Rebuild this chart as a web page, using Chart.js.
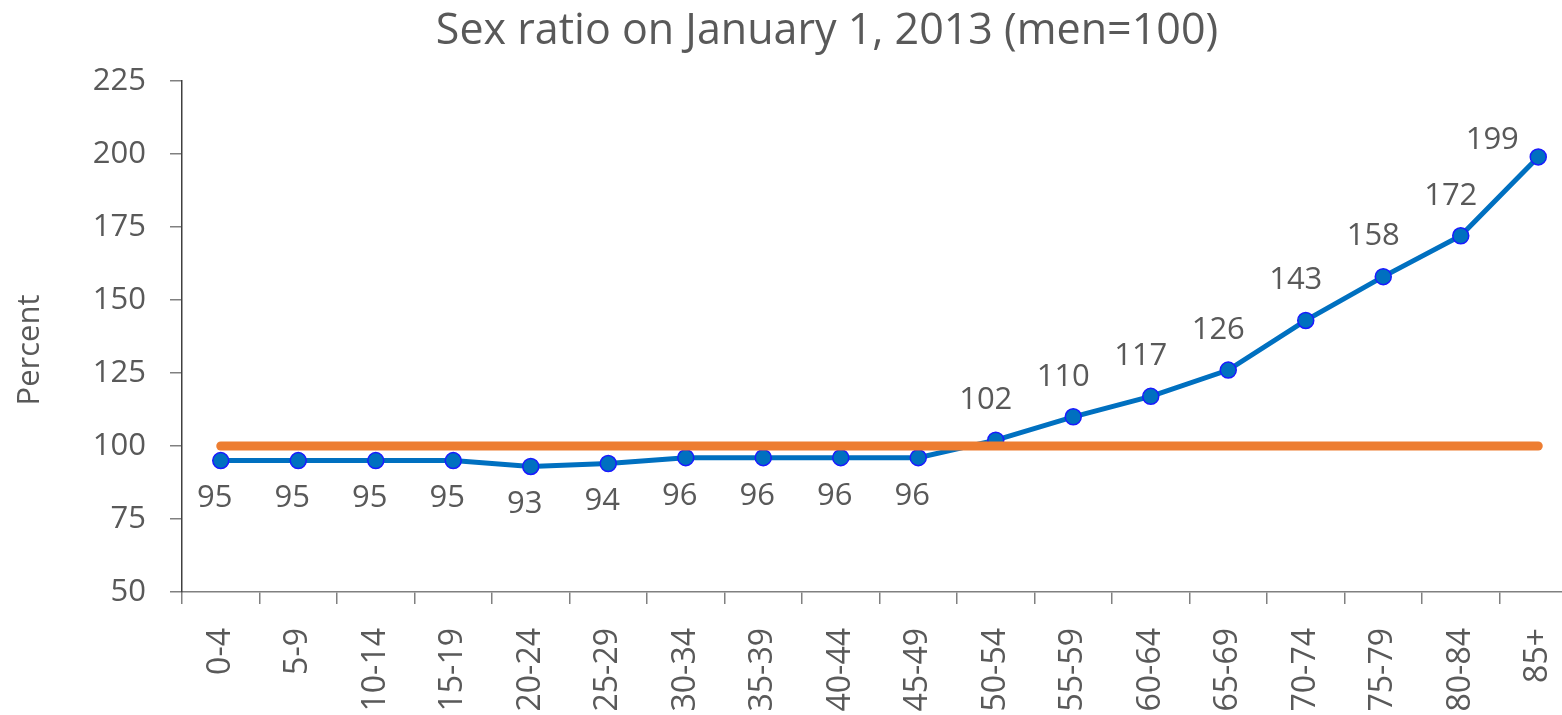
<!DOCTYPE html>
<html>
<head>
<meta charset="utf-8">
<title>Sex ratio on January 1, 2013</title>
<script src="https://cdn.jsdelivr.net/npm/chart.js@4.4.1/dist/chart.umd.min.js"></script>
<style>
  html, body { margin: 0; padding: 0; overflow: hidden; background: #fff; }
  #wrap { width: 1654px; height: 740px; }
</style>
</head>
<body>
<div id="wrap"><canvas id="ratioChart" width="1654" height="740"></canvas></div>
<script>
// ---- data ----
const ageGroups = ['0-4', '5-9', '10-14', '15-19', '20-24', '25-29', '30-34', '35-39', '40-44',
                   '45-49', '50-54', '55-59', '60-64', '65-69', '70-74', '75-79', '80-84', '85+'];
const womenPer100Men = [95, 95, 95, 95, 93, 94, 96, 96, 96, 96, 102, 110, 117, 126, 143, 158, 172, 199];
const parityLine = [100, 100, 100, 100, 100, 100, 100, 100, 100, 100, 100, 100, 100, 100, 100, 100, 100, 100];
const yTicks = [50, 75, 100, 125, 150, 175, 200, 225];

const chartTitle = 'Sex ratio on January 1, 2013 (men=100)';
const yTitle = 'Percent';

const FONT = '"Open Sans", "Noto Sans", sans-serif';
const TEXT = '#595959';

// title over the whole canvas + vertical axis caption
const captions = {
  id: 'captions',
  afterDraw(chart) {
    const ctx = chart.ctx;
    ctx.save();
    ctx.fillStyle = TEXT;
    ctx.textAlign = 'center';
    ctx.textBaseline = 'middle';
    ctx.font = '43px ' + FONT;
    ctx.fillText(chartTitle, chart.width / 2, 32);

    ctx.translate(30, 350);
    ctx.rotate(-Math.PI / 2);
    ctx.font = '31px ' + FONT;
    ctx.fillText(yTitle, 0, 0);
    ctx.restore();
  }
};

// value labels: under the point up to 100, above it after that,
// the last one sits to the left so it stays inside the plot
const valueLabels = {
  id: 'valueLabels',
  afterDatasetsDraw(chart) {
    const meta = chart.getDatasetMeta(0);
    const last = meta.data.length - 1;
    const ctx = chart.ctx;
    ctx.save();
    ctx.font = '31px ' + FONT;
    ctx.fillStyle = TEXT;
    ctx.textAlign = 'center';
    ctx.textBaseline = 'middle';
    meta.data.forEach((pt, i) => {
      const v = womenPer100Men[i];
      if (i === last) ctx.fillText(String(v), pt.x - 46, pt.y - 17);
      else if (v <= 100) ctx.fillText(String(v), pt.x - 6, pt.y + 38);
      else ctx.fillText(String(v), pt.x - 10, pt.y - 40);
    });
    ctx.restore();
  }
};

new Chart(document.getElementById('ratioChart'), {
  type: 'line',
  data: {
    labels: ageGroups,
    datasets: [
      {
        label: 'Sex ratio',
        data: womenPer100Men,
        borderColor: '#0070C0',
        borderWidth: 5,
        pointRadius: 8,
        pointBackgroundColor: '#0070C0',
        pointBorderColor: '#1a1aff',
        pointBorderWidth: 1.5,
        tension: 0,
        order: 2
      },
      {
        label: 'men=100',
        data: parityLine,
        borderColor: '#ED7D31',
        borderWidth: 9,
        borderCapStyle: 'round',
        pointRadius: 0,
        tension: 0,
        order: 1
      }
    ]
  },
  options: {
    responsive: false,
    animation: false,
    devicePixelRatio: 1,
    layout: { padding: { left: 0, right: 77, top: 81, bottom: 0 } },
    plugins: {
      legend: { display: false },
      tooltip: { enabled: false },
      title: { display: false }
    },
    scales: {
      x: {
        offset: true,
        grid: { drawOnChartArea: false, offset: true, tickLength: 12, color: '#808080', lineWidth: 1.5 },
        border: { color: '#808080', width: 1.5 },
        ticks: {
          autoSkip: false, minRotation: 90, maxRotation: 90, padding: 24,
          color: TEXT, font: { family: FONT, size: 32 }
        },
        afterFit(scale) { scale.height = 148; }
      },
      y: {
        min: 50,
        max: 225,
        afterBuildTicks(scale) { scale.ticks = yTicks.map(v => ({ value: v })); },
        grid: { drawOnChartArea: false, tickLength: 12, color: '#808080', lineWidth: 1.5 },
        border: { color: '#404040', width: 1.5 },
        ticks: { padding: 24, color: TEXT, font: { family: FONT, size: 31 } },
        afterFit(scale) { scale.width = 182; }
      }
    }
  },
  plugins: [valueLabels, captions]
});
</script>
</body>
</html>
